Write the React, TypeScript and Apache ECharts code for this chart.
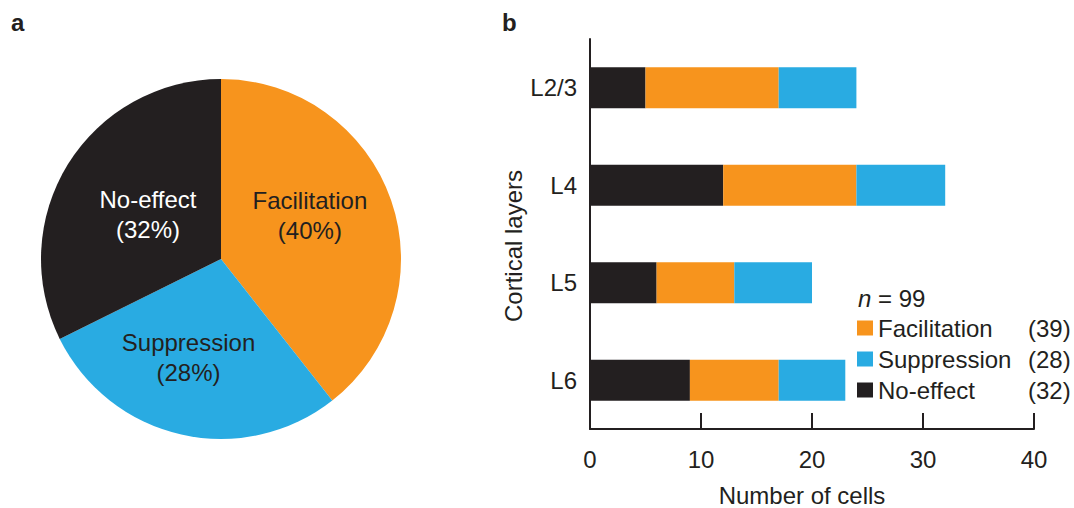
import React, { useEffect, useRef } from "react";
import * as echarts from "echarts";

// ---- data ----
const layers = ["L2/3", "L4", "L5", "L6"];
const noEffect = [5, 12, 6, 9];
const facilitation = [12, 12, 7, 8];
const suppression = [7, 8, 7, 6];
const pieNames = ["Facilitation", "Suppression", "No-effect"];
const piePctLabels = [40, 28, 32];
const xTicks = [0, 10, 20, 30, 40];

const COLORS: Record<string, string> = {
  Facilitation: "#F7941D",
  Suppression: "#29ABE2",
  "No-effect": "#231F20",
};
const TEXT = "#231F20";
const FONT = "'Liberation Sans', Arial, Helvetica, sans-serif";
const FS = 24;

const sum = (a: number[]) => a.reduce((s, v) => s + v, 0);
const totals: Record<string, number> = {
  Facilitation: sum(facilitation),
  Suppression: sum(suppression),
  "No-effect": sum(noEffect),
};
const nTotal = totals.Facilitation + totals.Suppression + totals["No-effect"];

const labelOffsets = [
  [1, -13],
  [-12, 8],
  [6, 5],
];

export default function App() {
  const ref = useRef<HTMLDivElement>(null);
  useEffect(() => {
    if (!ref.current) return;
    const chart = echarts.init(ref.current, undefined, { renderer: "svg" });
    const option: any = {
      animation: false,
      textStyle: { fontFamily: FONT, color: TEXT },
      grid: { left: 590, right: 40, top: 39, height: 390, containLabel: false },
      xAxis: {
        type: "value",
        min: xTicks[0],
        max: xTicks[xTicks.length - 1],
        interval: 10,
        splitLine: { show: false },
        axisLine: { show: true, lineStyle: { color: TEXT, width: 2 } },
        axisTick: { show: true, inside: true, length: 16, lineStyle: { color: TEXT, width: 2 } },
        axisLabel: { fontSize: FS, color: TEXT, margin: 18, fontFamily: FONT },
      },
      yAxis: {
        type: "category",
        data: layers,
        inverse: true,
        axisLine: { show: true, lineStyle: { color: TEXT, width: 2 } },
        axisTick: { show: false },
        axisLabel: { fontSize: FS, color: TEXT, margin: 13, fontFamily: FONT },
      },
      legend: {
        data: pieNames,
        orient: "vertical",
        left: 857,
        top: 316,
        padding: 0,
        itemWidth: 16,
        itemHeight: 15,
        itemGap: 7,
        icon: "rect",
        selectedMode: false,
        textStyle: { fontSize: FS, color: TEXT, lineHeight: 24, fontFamily: FONT },
        formatter: (name: string) => `{a|${name}}{b|(${totals[name]})}`,
      },
      series: [
        {
          type: "bar",
          name: "No-effect",
          stack: "s",
          data: noEffect,
          barWidth: 41,
          itemStyle: { color: COLORS["No-effect"] },
        },
        {
          type: "bar",
          name: "Facilitation",
          stack: "s",
          data: facilitation,
          barWidth: 41,
          itemStyle: { color: COLORS.Facilitation },
        },
        {
          type: "bar",
          name: "Suppression",
          stack: "s",
          data: suppression,
          barWidth: 41,
          itemStyle: { color: COLORS.Suppression },
        },
        {
          type: "pie",
          name: "pie",
          center: [221, 259],
          radius: [0, 180],
          startAngle: 90,
          clockwise: true,
          silent: true,
          data: pieNames.map((n) => ({
            name: n,
            value: totals[n],
            itemStyle: { color: COLORS[n] },
            label: { color: n === "No-effect" ? "#ffffff" : TEXT },
          })),
          label: {
            show: true,
            position: "inside",
            fontSize: FS,
            lineHeight: 30,
            fontFamily: FONT,
            formatter: (p: any) => `${p.name}\n(${piePctLabels[p.dataIndex]}%)`,
          },
          labelLine: { show: false },
          labelLayout: (p: any) => ({ dx: labelOffsets[p.dataIndex][0], dy: labelOffsets[p.dataIndex][1] }),
        },
      ],
      graphic: [
        {
          type: "text",
          left: 11,
          top: 10,
          style: { text: "a", font: `bold 24px ${FONT}`, fill: TEXT },
        },
        {
          type: "text",
          left: 502,
          top: 10,
          style: { text: "b", font: `bold 24px ${FONT}`, fill: TEXT },
        },
        {
          type: "text",
          x: 513,
          y: 246,
          rotation: Math.PI / 2,
          style: {
            text: "Cortical layers",
            font: `${FS}px ${FONT}`,
            fill: TEXT,
            align: "center",
            verticalAlign: "middle",
          },
        },
        {
          type: "text",
          x: 802,
          y: 495,
          style: {
            text: "Number of cells",
            font: `${FS}px ${FONT}`,
            fill: TEXT,
            align: "center",
            verticalAlign: "middle",
          },
        },
        {
          type: "text",
          x: 858,
          y: 298,
          style: {
            text: `{i|n} = ${nTotal}`,
            font: `${FS}px ${FONT}`,
            fill: TEXT,
            verticalAlign: "middle",
            rich: {
              i: { fontStyle: "italic", fontSize: FS, fontFamily: FONT, fill: TEXT },
            },
          },
        },
      ],
    };
    option.legend.textStyle.rich = {
      a: { width: 150, fontSize: FS, fontFamily: FONT, color: TEXT },
      b: { fontSize: FS, fontFamily: FONT, color: TEXT },
    };
    chart.setOption(option);
    return () => chart.dispose();
  }, []);
  return (
    <div
      ref={ref}
      style={{ position: "fixed", left: 0, top: 0, width: 1074, height: 508, background: "#fff" }}
    />
  );
}
